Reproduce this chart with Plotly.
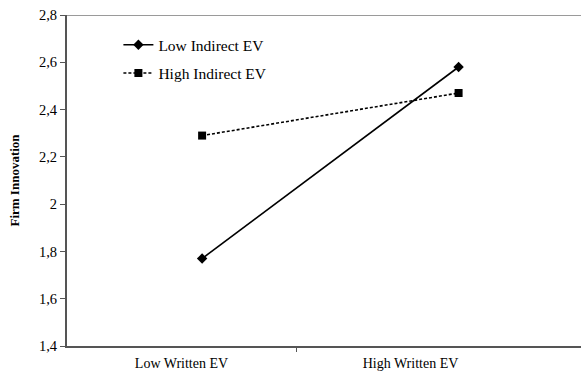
import plotly.graph_objects as go

# Data
categories = ["Low Written EV", "High Written EV"]
cat_pos = [0.59, 1.71]          # point positions on the numeric category axis
low_indirect = [1.77, 2.58]
high_indirect = [2.29, 2.47]
series_names = ["Low Indirect EV", "High Indirect EV"]
y_ticks = [1.4, 1.6, 1.8, 2.0, 2.2, 2.4, 2.6, 2.8]
y_ticktext = ["1,4", "1,6", "1,8", "2", "2,2", "2,4", "2,6", "2,8"]

font_family = "Liberation Serif, Times New Roman, serif"
x_range = [0, 514 / 229]

fig = go.Figure()
fig.add_trace(go.Scatter(
    x=cat_pos, y=low_indirect, name=series_names[0], mode="lines+markers",
    line=dict(color="black", width=1.6),
    marker=dict(symbol="diamond", size=8, color="black"),
    legendgroup="a", xaxis="x", yaxis="y",
))
fig.add_trace(go.Scatter(
    x=cat_pos, y=high_indirect, name=series_names[1], mode="lines+markers",
    line=dict(color="black", width=1.6, dash="3px,2px"),
    marker=dict(symbol="square", size=8, color="black"),
    legendgroup="b", xaxis="x2", yaxis="y",
))

fig.update_layout(
    width=581, height=374,
    margin=dict(l=67, r=0, t=15, b=28),
    paper_bgcolor="white", plot_bgcolor="white",
    font=dict(family=font_family, size=14, color="black"),
    showlegend=True,
    legend=dict(x=0.1, y=0.96, xanchor="left", yanchor="top",
                bgcolor="rgba(0,0,0,0)", font=dict(size=15.5), tracegroupgap=5),
    # labels axis
    xaxis=dict(
        range=x_range, showgrid=False, zeroline=False,
        showline=True, linecolor="#555555", linewidth=2,
        tickmode="array", tickvals=[0.5, 1.5], ticktext=categories, ticks="",
        tickfont=dict(size=14), ticklabelstandoff=3,
    ),
    # tick-mark axis (category boundary)
    xaxis2=dict(
        range=x_range, overlaying="x", side="bottom", anchor="y",
        showgrid=False, zeroline=False, showline=False,
        tickmode="array", tickvals=[1], ticktext=[""], ticks="outside",
        ticklen=5, tickcolor="#555555", tickwidth=1,
    ),
    yaxis=dict(
        range=[1.4, 2.8], showgrid=False, zeroline=False,
        showline=True, linecolor="#555555", linewidth=2,
        mirror=False,
        tickvals=y_ticks, ticktext=y_ticktext, ticks="outside", ticklen=5,
        tickcolor="#555555", tickfont=dict(size=14.5),
        title=dict(text="<b>Firm Innovation</b>", font=dict(size=13), standoff=16),
    ),
)

# top border line of plot area
fig.add_shape(type="line", xref="paper", yref="y", x0=0, x1=1, y0=2.8, y1=2.8,
              line=dict(color="#9a9a9a", width=2))

fig.write_html(
    "out.html",
    config={"displayModeBar": False},
    post_script="document.body.style.margin='0';document.body.style.overflow='hidden';",
)
